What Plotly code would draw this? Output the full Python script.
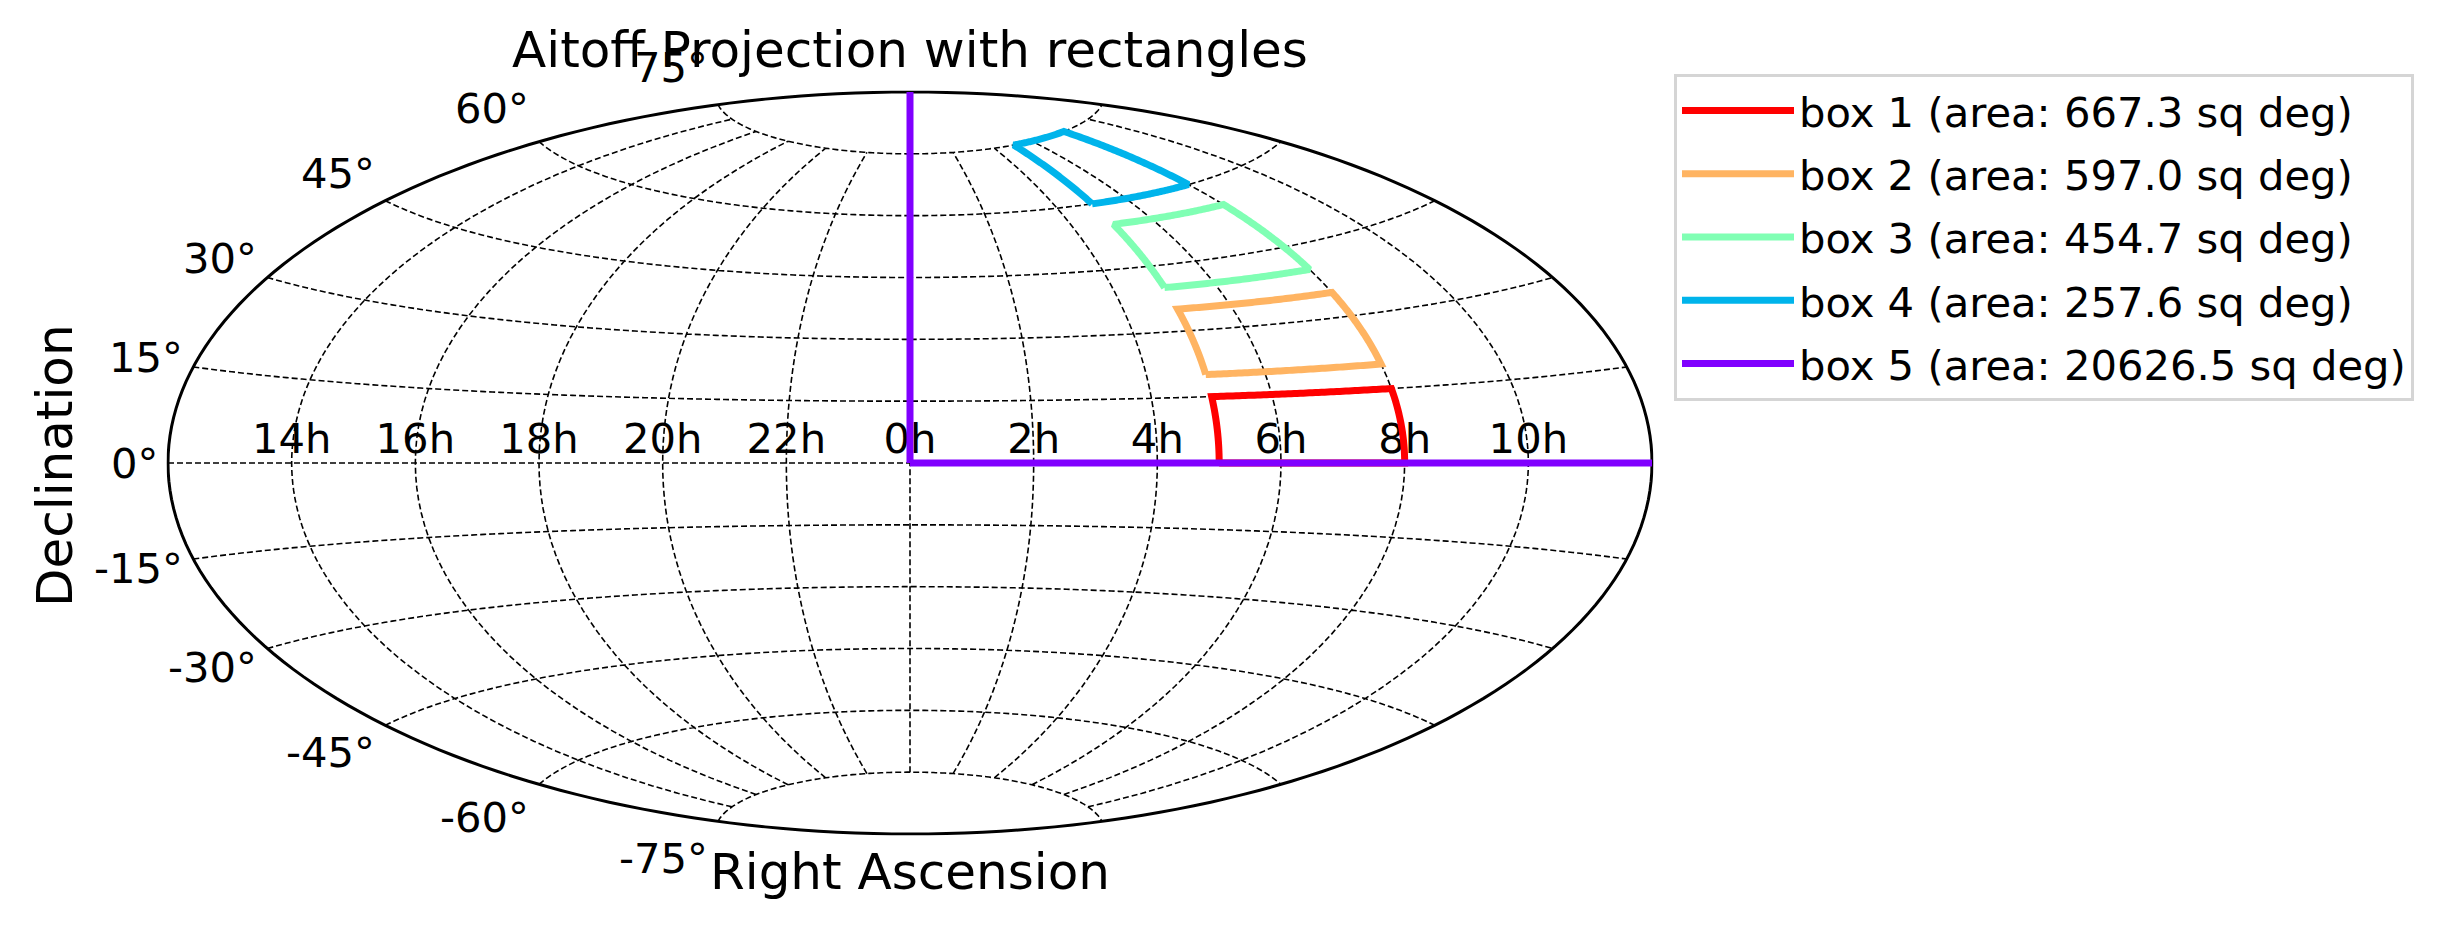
import numpy as np
import plotly.graph_objects as go

# the page puts the figure 8px in from the top-left corner
OFF = 8
FW, FH = 2444, 915

# rectangles (degrees)
box_names = ['box 1', 'box 2', 'box 3', 'box 4', 'box 5']
ra_min = [75, 75, 75, 75, 0]
ra_max = [120, 120, 120, 120, 180]
dec_min = [0, 20, 40, 60, 0]
dec_max = [15, 35, 55, 75, 90]
box_area = [667.3, 597.0, 454.7, 257.6, 20626.5]
box_colors = ['#ff0000', '#ffb462', '#80ffb4', '#00b4eb', '#8000ff']

# axis ticks
ra_ticks = [-150, -120, -90, -60, -30, 0, 30, 60, 90, 120, 150]
ra_labels = ['14h', '16h', '18h', '20h', '22h', '0h', '2h', '4h', '6h', '8h', '10h']
dec_ticks = [-75, -60, -45, -30, -15, 0, 15, 30, 45, 60, 75]
dec_labels = ['-75°', '-60°', '-45°', '-30°', '-15°', '0°', '15°', '30°', '45°', '60°', '75°']

FONT = 'DejaVu Sans'
TICK_SIZE = 41.7


def px_x(x):
    return (x - OFF) / FW


def px_y(y):
    return 1 - (y - OFF) / FH


# map area in page pixels
dom_x = [px_x(168), px_x(1652)]
dom_y = [px_y(835), px_y(91)]


def edge(a0, a1, fixed, along_lon, n=60):
    t = list(np.linspace(a0, a1, n))
    if along_lon:
        return t, [fixed] * n
    return [fixed] * n, t


def box_outline(r0, r1, d0, d1):
    lons, lats = [], []
    parts = [edge(r0, r1, d0, True), edge(d0, d1, r1, False),
             edge(r1, r0, d1, True), edge(d1, d0, r0, False)]
    for (lo, la), fixed_lon in zip(parts, [None, r1, None, r0]):
        # edges lying on the outer rim of the map are not drawn
        if fixed_lon is not None and abs(fixed_lon) == 180:
            lons.append(None)
            lats.append(None)
            continue
        lons += lo
        lats += la
    return lons, lats


fig = go.Figure()

# graticule, meridians stop at +-75 deg like matplotlib
g_lon, g_lat = [], []
for lon in ra_ticks:
    g_lon += [lon] * 61 + [None]
    g_lat += list(np.linspace(-75, 75, 61)) + [None]
for lat in dec_ticks:
    g_lon += list(np.linspace(-180, 180, 181)) + [None]
    g_lat += [lat] * 181 + [None]
fig.add_trace(go.Scattergeo(lon=g_lon, lat=g_lat, mode='lines',
                            line=dict(color='black', width=1.6, dash='6px,3px'),
                            showlegend=False, hoverinfo='skip'))

# RA tick labels along the equator
fig.add_trace(go.Scattergeo(lon=ra_ticks, lat=[0] * len(ra_ticks), mode='text',
                            text=ra_labels, textposition='top center',
                            textfont=dict(family=FONT, size=TICK_SIZE, color='black'),
                            showlegend=False, hoverinfo='skip'))

for i, name in enumerate(box_names):
    lo, la = box_outline(ra_min[i], ra_max[i], dec_min[i], dec_max[i])
    fig.add_trace(go.Scattergeo(
        lon=lo, lat=la, mode='lines', connectgaps=False,
        line=dict(color=box_colors[i], width=7),
        name=f'{name} (area: {box_area[i]:.1f} sq deg)',
        legendgroup=name))

# declination labels, placed like matplotlib does (edge point, y*1.1, 8px left)
phi = np.radians(dec_ticks)
X = -np.pi * np.cos(phi)
Y = np.pi / 2 * np.sin(phi)
xc, hw = (dom_x[0] + dom_x[1]) / 2, (dom_x[1] - dom_x[0]) / 2
yc, hh = (dom_y[0] + dom_y[1]) / 2, (dom_y[1] - dom_y[0]) / 2
annotations = []
for lab, xx, yy in zip(dec_labels, X, Y):
    annotations.append(dict(
        x=xc + xx / np.pi * hw, y=yc + 1.1 * yy / (np.pi / 2) * hh,
        xref='paper', yref='paper', xanchor='right', yanchor='middle',
        xshift=-8, text=lab, showarrow=False,
        font=dict(family=FONT, size=TICK_SIZE, color='black')))

annotations.append(dict(x=xc, y=px_y(841), xref='paper', yref='paper',
                        xanchor='center', yanchor='top', text='Right Ascension',
                        showarrow=False, font=dict(family=FONT, size=50, color='black')))
annotations.append(dict(x=px_x(55), y=px_y(466), xref='paper', yref='paper',
                        xanchor='center', yanchor='middle', text='Declination', textangle=-90,
                        showarrow=False, font=dict(family=FONT, size=50, color='black')))

fig.update_layout(
    width=FW, height=FH,
    margin=dict(l=0, r=0, t=0, b=0),
    paper_bgcolor='white',
    font=dict(family=FONT, color='black'),
    title=dict(text='Aitoff Projection with rectangles', x=xc, xanchor='center',
               y=px_y(49), yanchor='middle', font=dict(family=FONT, size=50, color='black')),
    geo=dict(
        domain=dict(x=dom_x, y=dom_y),
        projection=dict(type='aitoff'),
        showframe=True, framecolor='black', framewidth=3,
        showland=False, showocean=False, showlakes=False, showrivers=False,
        showcountries=False, showsubunits=False, showcoastlines=False,
        bgcolor='white',
        lonaxis=dict(showgrid=False, range=[-180, 180]),
        lataxis=dict(showgrid=False, range=[-90, 90]),
    ),
    legend=dict(x=px_x(1674), y=px_y(74), xanchor='left', yanchor='top',
                bordercolor='#d5d5d5', borderwidth=3, bgcolor='white',
                font=dict(family=FONT, size=TICK_SIZE, color='black'),
                tracegroupgap=6, itemwidth=112),
    annotations=annotations,
)

fig.write_html('out.html')
